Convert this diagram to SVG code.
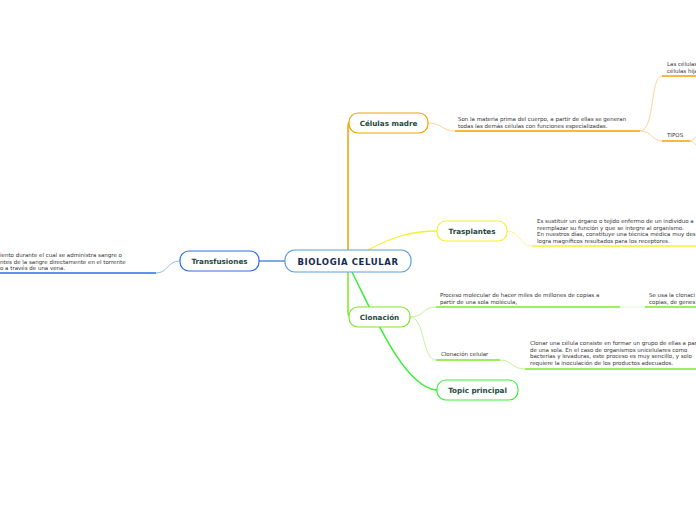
<svg xmlns="http://www.w3.org/2000/svg" width="696" height="520" viewBox="0 0 696 520">
<style>
.node{fill:#fff;stroke-width:1.2}
.lbl{font-family:"DejaVu Sans",Verdana,sans-serif;font-weight:bold;fill:#1d4a3c;text-anchor:middle}
.d{font-family:"DejaVu Sans",Verdana,sans-serif;font-size:5.5px;fill:#333}
.c{fill:none}
</style>
<rect width="696" height="520" fill="#fff"/>
<g id="connectors">
<path class="c" d="M348 250 V126 Q348 121 352 121" stroke="#f5a000" stroke-width="1.5"/>
<path class="c" d="M368 250 C390 238 410 231 437 231" stroke="#f3f32a" stroke-width="1.3"/>
<path class="c" d="M348 272 V312 Q348 317 352 317" stroke="#7be82a" stroke-width="1.5"/>
<path class="c" d="M352 272 C375 318 405 388 437 390" stroke="#3aef3a" stroke-width="1.5"/>
<path class="c" d="M259 261 H285" stroke="#2a6ee8" stroke-width="1.2"/>
<path class="c" d="M428 123 C442 123 442 131 455 131" stroke="#fcd59a" stroke-width="1"/>
<path class="c" d="M455 131 H640" stroke="#f5a000" stroke-width="1.5"/>
<path class="c" d="M640 131 C655 131 650 76 662 76" stroke="#fcd59a" stroke-width="1"/>
<path class="c" d="M640 131 C652 131 652 141 662 141" stroke="#fcd59a" stroke-width="1"/>
<path class="c" d="M662 76 H696" stroke="#f5a000" stroke-width="1.5"/>
<path class="c" d="M662 141 H690" stroke="#f5a000" stroke-width="1.5"/>
<path class="c" d="M690 141 C693 141 694 138 696 137 M690 141 C693 141 694 144 696 145" stroke="#fcd59a" stroke-width="1"/>
<path class="c" d="M507 231 C520 231 520 246 532 246" stroke="#f8f890" stroke-width="1"/>
<path class="c" d="M532 246 H696" stroke="#f3f32a" stroke-width="1.5"/>
<path class="c" d="M180 261 C167 261 168 273 156 273" stroke="#9ab8f2" stroke-width="1"/>
<path class="c" d="M0 273 H156" stroke="#2a6ee8" stroke-width="1.5"/>
<path class="c" d="M410 317 C425 317 422 307 436 307" stroke="#c4f29a" stroke-width="1"/>
<path class="c" d="M410 317 C425 317 422 360 436 360" stroke="#c4f29a" stroke-width="1"/>
<path class="c" d="M436 307 H620" stroke="#7be82a" stroke-width="1.5"/>
<path class="c" d="M620 307 H645" stroke="#e4f9d0" stroke-width="1"/>
<path class="c" d="M645 307 H696" stroke="#7be82a" stroke-width="1.5"/>
<path class="c" d="M436 360 H500" stroke="#7be82a" stroke-width="1.5"/>
<path class="c" d="M500 360 C512 360 512 369 525 369" stroke="#c4f29a" stroke-width="1"/>
<path class="c" d="M525 369 H696" stroke="#7be82a" stroke-width="1.5"/>
</g>
<g id="n-central">
<rect class="node" x="285" y="250" width="126" height="22" rx="10" stroke="#5a9fdc"/>
<text x="348" y="265" font-family="DejaVu Sans,Verdana,sans-serif" font-weight="bold" font-size="8.5" letter-spacing="0.6" fill="#172a4f" text-anchor="middle">BIOLOGIA CELULAR</text>
</g>
<g id="n-celulas">
<rect class="node" x="349" y="113" width="79" height="20" rx="9" stroke="#f5a000"/>
<text class="lbl" x="388.5" y="126" font-size="7.2">Células madre</text>
</g>
<g id="n-trasplantes">
<rect class="node" x="437" y="221" width="70" height="20" rx="9" stroke="#f3f32a"/>
<text class="lbl" x="472" y="234" font-size="7.2">Trasplantes</text>
</g>
<g id="n-transfusiones">
<rect class="node" x="180" y="251" width="79" height="20" rx="9" stroke="#2a6ee8"/>
<text class="lbl" x="219.5" y="264" font-size="7.2">Transfusiones</text>
</g>
<g id="n-clonacion">
<rect class="node" x="349" y="307" width="61" height="20" rx="9" stroke="#7be82a"/>
<text class="lbl" x="379.5" y="320" font-size="7.2">Clonación</text>
</g>
<g id="n-topic">
<rect class="node" x="437" y="380" width="81" height="20" rx="9" stroke="#3aef3a"/>
<text class="lbl" x="477.5" y="393" font-size="7.2">Topic principal</text>
</g>
<g id="t-celulas">
<text class="d" x="458" y="121">Son la materia prima del cuerpo, a partir de ellas se generan</text>
<text class="d" x="458" y="128">todas las demás células con funciones especializadas.</text>
</g>
<g id="t-hijas">
<text class="d" x="667" y="66">Las células</text>
<text class="d" x="667" y="72.5">células hija</text>
</g>
<g id="t-tipos">
<text class="d" x="667" y="137">TIPOS</text>
</g>
<g id="t-trasplantes">
<text class="d" x="537" y="223">Es sustituir un órgano o tejido enfermo de un individuo a</text>
<text class="d" x="537" y="229.5">reemplazar su función y que se integre al organismo.</text>
<text class="d" x="537" y="236">En nuestros días, constituye una técnica médica muy des</text>
<text class="d" x="537" y="242.5">logra magníficos resultados para los receptores.</text>
</g>
<g id="t-transfusiones">
<text class="d" x="0" y="257">iento durante el cual se administra sangre o</text>
<text class="d" x="0" y="263.5">ntes de la sangre directamente en el torrente</text>
<text class="d" x="0" y="270">o a través de una vena.</text>
</g>
<g id="t-proceso">
<text class="d" x="440" y="297">Proceso molecular de hacer miles de millones de copias a</text>
<text class="d" x="440" y="303.5">partir de una sola molécula,</text>
</g>
<g id="t-seusa">
<text class="d" x="649" y="297">Se usa la clonaci</text>
<text class="d" x="649" y="303.5">copias, de genes</text>
</g>
<g id="t-clonacel">
<text class="d" x="441" y="356" font-size="6.8">Clonación celular</text>
</g>
<g id="t-clonar">
<text class="d" x="530" y="345">Clonar una célula consiste en formar un grupo de ellas a par</text>
<text class="d" x="530" y="351.5">de una sola. En el caso de organismos unicelulares como</text>
<text class="d" x="530" y="358">bacterias y levaduras, este proceso es muy sencillo, y solo</text>
<text class="d" x="530" y="364.5">requiere la inoculación de los productos adecuados.</text>
</g>
</svg>
